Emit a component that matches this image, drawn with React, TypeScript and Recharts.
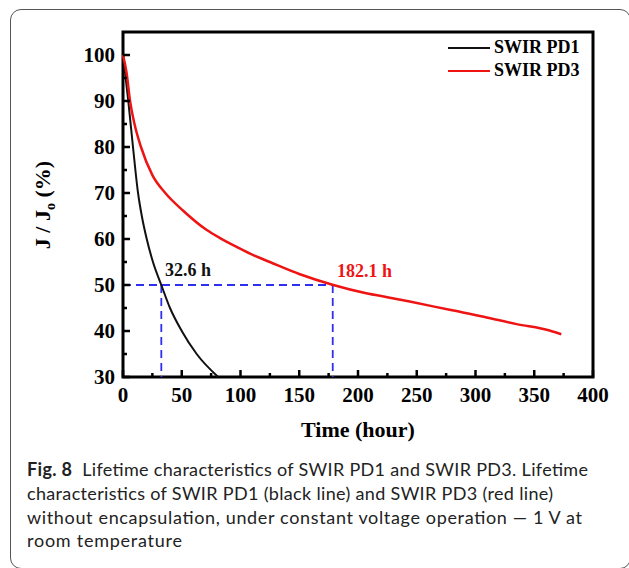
import React from "react";
import {
  LineChart,
  Line,
  XAxis,
  YAxis,
  ReferenceArea,
  ReferenceLine,
  ReferenceDot,
  Legend,
} from "recharts";

// SWIR PD1 (black) and SWIR PD3 (red) lifetime
const pd1Time = [0, 4.5, 8.5, 12.8, 16, 20.2, 25.5, 32.6, 40, 50, 62.7, 81];
const pd1Ratio = [100, 90, 80, 70, 65, 60, 55, 50, 45, 40, 35, 30];

const pd3Time = [
  0, 3, 6, 9.6, 15.3, 25, 36, 51, 71, 82.6, 96.7, 110.9, 125, 150,
  179, 207, 226, 244, 278, 307, 335, 363, 373,
];
const pd3Ratio = [
  100, 96.2, 90, 85.2, 80, 73.9, 70, 66.2, 62, 60.2, 58.3, 56.5, 55,
  52.4, 50, 48.2, 47.3, 46.4, 44.6, 43.1, 41.5, 40.1, 39.3,
];

const xTicks = [0, 25, 50, 75, 100, 125, 150, 175, 200, 225, 250, 275, 300, 325, 350, 375, 400];
const yTicks = [30, 35, 40, 45, 50, 55, 60, 65, 70, 75, 80, 85, 90, 95, 100];

const halfLife1 = 32.6;
const halfLife3 = 178.5;

const captionLines = [
  "characteristics of SWIR PD1 (black line) and SWIR PD3 (red line)",
  "without encapsulation, under constant voltage operation \u2014 1 V at",
  "room temperature",
];

const pd1Data = pd1Time.map((t, i) => ({ t, v: pd1Ratio[i] }));
const pd3Data = pd3Time.map((t, i) => ({ t, v: pd3Ratio[i] }));

const SERIF = "'Liberation Serif', 'Times New Roman', serif";
const RED = "#ee1414";
const BLUE = "#2f2ff0";

function XTick(props: any) {
  const { x, y, payload } = props;
  const major = payload.value % 50 === 0;
  return (
    <g>
      <line x1={x} x2={x} y1={y} y2={y - (major ? 7 : 4)} stroke="#000" strokeWidth={2.5} />
      {major && (
        <text x={x} y={y + 25} textAnchor="middle" fontFamily={SERIF} fontWeight="bold" fontSize={21} fill="#000">
          {payload.value}
        </text>
      )}
    </g>
  );
}

function YTick(props: any) {
  const { x, y, payload } = props;
  const major = payload.value % 10 === 0;
  return (
    <g>
      <line x1={x} x2={x + (major ? 7 : 4)} y1={y} y2={y} stroke="#000" strokeWidth={2.5} />
      {major && (
        <text x={x - 8} y={y + 7} textAnchor="end" fontFamily={SERIF} fontWeight="bold" fontSize={21} fill="#000">
          {payload.value}
        </text>
      )}
    </g>
  );
}

function renderLegend(props: any) {
  const items = props.payload || [];
  return (
    <div>
      {items.map((it: any) => (
        <div key={it.value} style={{ display: "flex", alignItems: "center", height: 23 }}>
          <div style={{ width: 42, height: 0, borderTop: `2px solid ${it.color}`, marginRight: 4 }} />
          <span style={{ fontFamily: SERIF, fontWeight: "bold", fontSize: 18, lineHeight: "23px", color: "#000" }}>
            {it.value}
          </span>
        </div>
      ))}
    </div>
  );
}

const annot = (text: string, color: string) => (props: any) => {
  const vb = props.viewBox || {};
  return (
    <text x={vb.x} y={vb.y} fontFamily={SERIF} fontWeight="bold" fontSize={18} fill={color}>
      {text}
    </text>
  );
};

export default function App() {
  return (
    <div style={{ position: "absolute", left: 0, top: 0, width: 629, height: 568, background: "#fff", overflow: "hidden" }}>
      <div
        style={{
          position: "absolute",
          left: 10,
          top: 9,
          width: 621,
          height: 560,
          boxSizing: "border-box",
          border: "1px solid #555",
          borderRadius: 11,
        }}
      />
      <div style={{ position: "absolute", left: 0, top: 0 }}>
        <LineChart width={629} height={460} margin={{ top: 32, right: 36, bottom: 53, left: 63 }}>
          <XAxis
            type="number"
            dataKey="t"
            domain={[0, 400]}
            ticks={xTicks}
            interval={0}
            height={30}
            axisLine={false}
            tickLine={false}
            tickSize={0}
            tickMargin={0}
            tick={<XTick />}
            label={{
              content: () => (
                <text x={358} y={437} textAnchor="middle" fontFamily={SERIF} fontWeight="bold" fontSize={22} fill="#000">
                  Time (hour)
                </text>
              ),
            }}
          />
          <YAxis
            type="number"
            dataKey="v"
            domain={[30, 105]}
            ticks={yTicks}
            interval={0}
            width={60}
            axisLine={false}
            tickLine={false}
            tickSize={0}
            tickMargin={0}
            tick={<YTick />}
            label={{
              content: () => (
                <text transform="translate(50, 205) rotate(-90)" textAnchor="middle" fontFamily={SERIF} fontWeight="bold" fontSize={22} fill="#000">
                  J / J<tspan fontSize={14} dy={5}>o</tspan>
                  <tspan dy={-5}> (%)</tspan>
                </text>
              ),
            }}
          />
          <ReferenceLine
            segment={[{ x: 0, y: 50 }, { x: halfLife3, y: 50 }]}
            stroke={BLUE}
            strokeWidth={1.8}
            strokeDasharray="8 5"
          />
          <ReferenceLine
            segment={[{ x: halfLife1, y: 50 }, { x: halfLife1, y: 30 }]}
            stroke={BLUE}
            strokeWidth={1.8}
            strokeDasharray="8 5"
          />
          <ReferenceLine
            segment={[{ x: halfLife3, y: 50 }, { x: halfLife3, y: 30 }]}
            stroke={BLUE}
            strokeWidth={1.8}
            strokeDasharray="8 5"
          />
          <Line
            data={pd1Data}
            dataKey="v"
            name="SWIR PD1"
            type="monotone"
            stroke="#111"
            strokeWidth={2}
            dot={false}
            isAnimationActive={false}
          />
          <Line
            data={pd3Data}
            dataKey="v"
            name="SWIR PD3"
            type="monotone"
            stroke={RED}
            strokeWidth={2.5}
            dot={false}
            isAnimationActive={false}
          />
          <ReferenceDot x={35.7} y={52} r={0} fill="none" stroke="none" label={{ content: annot("32.6 h", "#111") }} />
          <ReferenceDot x={182.1} y={51.8} r={0} fill="none" stroke="none" label={{ content: annot("182.1 h", RED) }} />
          <ReferenceArea x1={0} x2={400} y1={30} y2={105} fill="none" stroke="#000" strokeWidth={3} />
          <Legend
            layout="vertical"
            verticalAlign="middle"
            align="center"
            wrapperStyle={{ top: 36, left: 448, width: 160 }}
            content={renderLegend}
          />
        </LineChart>
      </div>
      <svg width={629} height={568} style={{ position: "absolute", left: 0, top: 0, pointerEvents: "none" }}>
        <text x={27} y={476} fontFamily="Lato, 'Open Sans', sans-serif" fontSize={18} fill="#222" textLength={561} lengthAdjust="spacing">
          <tspan fontWeight="bold">Fig. 8</tspan>
          <tspan>{"\u00a0 Lifetime characteristics of SWIR PD1 and SWIR PD3. Lifetime"}</tspan>
        </text>
        {captionLines.map((line, i) => (
          <text
            key={i}
            x={27}
            y={500 + i * 23.7}
            fontFamily="Lato, 'Open Sans', sans-serif"
            fontSize={18}
            fill="#222"
            textLength={[526, 555, 155][i]}
            lengthAdjust="spacing"
          >
            {line}
          </text>
        ))}
      </svg>
    </div>
  );
}
